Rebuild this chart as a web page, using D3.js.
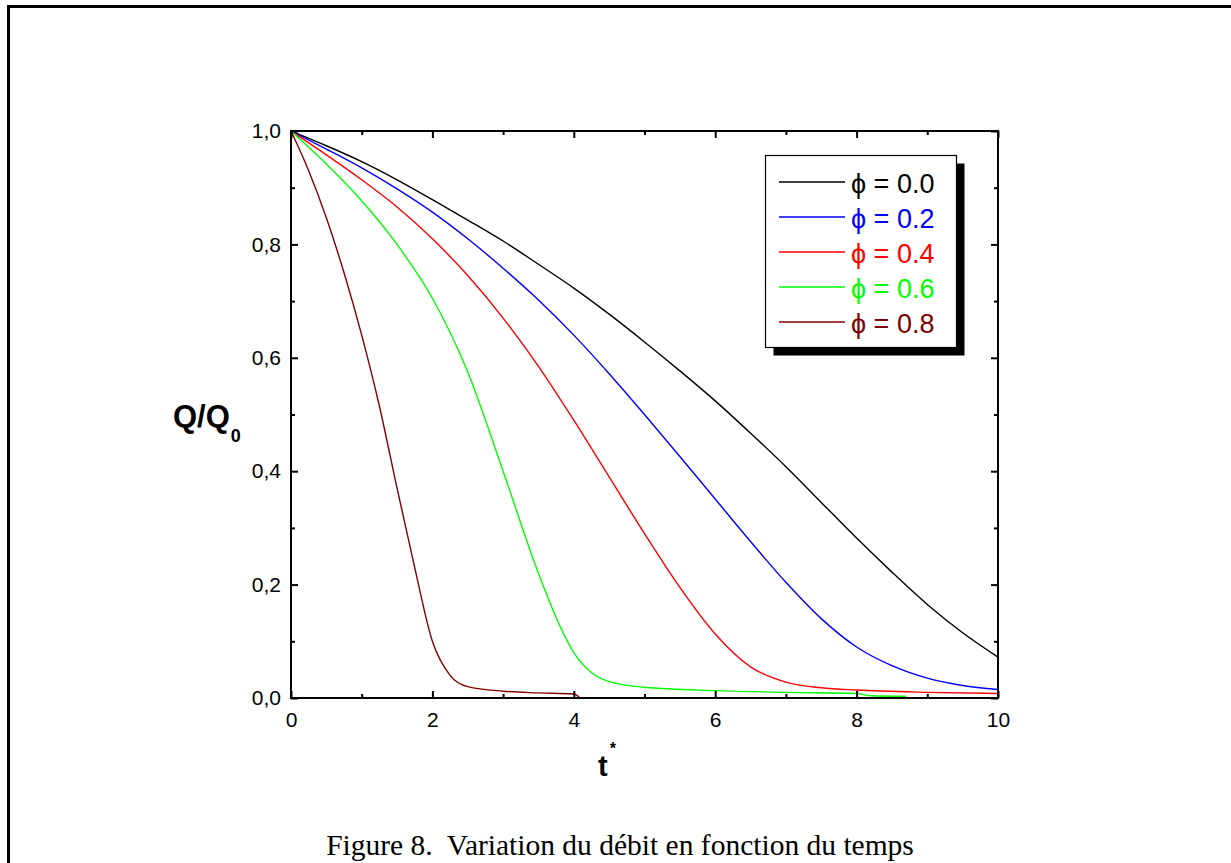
<!DOCTYPE html>
<html>
<head>
<meta charset="utf-8">
<script src="https://cdn.jsdelivr.net/npm/d3@7"></script>
<style>
  body { margin: 0; background: #fff; }
  svg { display: block; }
</style>
</head>
<body>
<svg id="chart" width="1231" height="863"></svg>
<script>
// values: t*, Q/Q0 for each phi
const tBlack = [0, 0.5, 1, 1.5, 2, 2.5, 3, 3.5, 4, 4.5, 5, 5.5, 6, 6.5, 7, 7.5, 8, 8.5, 9, 9.5, 10];
const qBlack = [1, 0.974, 0.946, 0.914, 0.879, 0.843, 0.806, 0.765, 0.723, 0.677, 0.628, 0.577, 0.524, 0.467, 0.408, 0.345, 0.282, 0.222, 0.165, 0.115, 0.072];

const tBlue = [0, 0.5, 1, 1.5, 2, 2.5, 3, 3.5, 4, 4.5, 5, 5.5, 6, 6.5, 7, 7.5, 8, 8.5, 9, 9.5, 10];
const qBlue = [1, 0.968, 0.935, 0.898, 0.857, 0.81, 0.758, 0.702, 0.64, 0.572, 0.5, 0.426, 0.351, 0.276, 0.204, 0.14, 0.09, 0.057, 0.035, 0.022, 0.015];

const tRed = [0, 0.5, 1, 1.5, 2, 2.5, 3, 3.5, 4, 4.5, 5, 5.5, 6, 6.5, 7, 7.5, 8, 9, 10];
const qRed = [1, 0.958, 0.914, 0.866, 0.81, 0.745, 0.67, 0.585, 0.49, 0.39, 0.29, 0.195, 0.113, 0.055, 0.028, 0.018, 0.014, 0.01, 0.008];

const tGreen = [0, 0.5, 1, 1.5, 2, 2.5, 3, 3.5, 3.75, 4, 4.25, 4.5, 5, 6, 7, 8, 8.2, 8.7];
const qGreen = [1, 0.942, 0.877, 0.8, 0.705, 0.575, 0.4, 0.22, 0.142, 0.08, 0.045, 0.029, 0.019, 0.013, 0.01, 0.008, 0.004, 0.003];

const tBrown = [0, 0.25, 0.5, 0.75, 1, 1.25, 1.5, 1.75, 2, 2.25, 2.5, 3, 3.5, 4, 4.08];
const qBrown = [1, 0.93, 0.847, 0.75, 0.64, 0.515, 0.37, 0.23, 0.1, 0.04, 0.02, 0.012, 0.009, 0.007, 0.001];

const phiLabels = ['0.0', '0.2', '0.4', '0.6', '0.8'];
const seriesColors = ['#000000', '#0000ff', '#ff0000', '#00ff00', '#800000'];

const xMajor = [0, 2, 4, 6, 8, 10];
const xMinor = [1, 3, 5, 7, 9];
const yMajor = [0, 0.2, 0.4, 0.6, 0.8, 1.0];
const yMinor = [0.1, 0.3, 0.5, 0.7, 0.9];

const caption = 'Figure 8.\u00A0 Variation du débit en fonction du temps';

const series = [
  { t: tBlack, q: qBlack },
  { t: tBlue, q: qBlue },
  { t: tRed, q: qRed },
  { t: tGreen, q: qGreen },
  { t: tBrown, q: qBrown }
];

const svg = d3.select('#chart');

// page frame (only top and left edges show)
svg.append('path')
  .attr('d', 'M 8.5 863 L 8.5 6.5 L 1231 6.5')
  .attr('fill', 'none')
  .attr('stroke', '#000')
  .attr('stroke-width', 3);

const plot = { left: 291, right: 998, top: 131, bottom: 698 };

const x = d3.scaleLinear().domain([0, 10]).range([plot.left, plot.right]);
const y = d3.scaleLinear().domain([0, 1]).range([plot.bottom, plot.top]);

const fmt = d => d3.format('.1f')(d).replace('.', ',');

// curves first, axes drawn on top
const line = d3.line()
  .x(d => x(d[0]))
  .y(d => y(d[1]))
  .curve(d3.curveMonotoneX);

svg.append('g')
  .attr('class', 'curves')
  .selectAll('path')
  .data(series)
  .join('path')
  .attr('d', s => line(s.t.map((t, i) => [t, s.q[i]])))
  .attr('fill', 'none')
  .attr('stroke', (s, i) => seriesColors[i])
  .attr('stroke-width', 1.4);

const styleAxis = g => {
  g.select('.domain').remove();
  g.selectAll('.tick line').attr('stroke', '#000').attr('stroke-width', 2);
  g.selectAll('.tick text')
    .attr('fill', '#000')
    .attr('font-family', 'Liberation Sans, Arial, sans-serif')
    .attr('font-size', 21);
};

// bottom
svg.append('g')
  .attr('transform', `translate(0,${plot.bottom})`)
  .call(d3.axisBottom(x).tickValues(xMajor).tickSizeInner(-7).tickSizeOuter(0).tickPadding(14).tickFormat(d3.format('d')))
  .call(styleAxis);
svg.append('g')
  .attr('transform', `translate(0,${plot.bottom})`)
  .call(d3.axisBottom(x).tickValues(xMinor).tickSizeInner(-4).tickSizeOuter(0).tickFormat(''))
  .call(styleAxis);

// top
svg.append('g')
  .attr('transform', `translate(0,${plot.top})`)
  .call(d3.axisTop(x).tickValues(xMajor).tickSizeInner(-7).tickSizeOuter(0).tickFormat(''))
  .call(styleAxis);
svg.append('g')
  .attr('transform', `translate(0,${plot.top})`)
  .call(d3.axisTop(x).tickValues(xMinor).tickSizeInner(-4).tickSizeOuter(0).tickFormat(''))
  .call(styleAxis);

// left
svg.append('g')
  .attr('transform', `translate(${plot.left},0)`)
  .call(d3.axisLeft(y).tickValues(yMajor).tickSizeInner(-7).tickSizeOuter(0).tickPadding(10).tickFormat(fmt))
  .call(styleAxis);
svg.append('g')
  .attr('transform', `translate(${plot.left},0)`)
  .call(d3.axisLeft(y).tickValues(yMinor).tickSizeInner(-4).tickSizeOuter(0).tickFormat(''))
  .call(styleAxis);

// right
svg.append('g')
  .attr('transform', `translate(${plot.right},0)`)
  .call(d3.axisRight(y).tickValues(yMajor).tickSizeInner(-7).tickSizeOuter(0).tickFormat(''))
  .call(styleAxis);
svg.append('g')
  .attr('transform', `translate(${plot.right},0)`)
  .call(d3.axisRight(y).tickValues(yMinor).tickSizeInner(-4).tickSizeOuter(0).tickFormat(''))
  .call(styleAxis);

// frame of the plot
svg.append('rect')
  .attr('x', plot.left)
  .attr('y', plot.top)
  .attr('width', plot.right - plot.left)
  .attr('height', plot.bottom - plot.top)
  .attr('fill', 'none')
  .attr('stroke', '#000')
  .attr('stroke-width', 2);

// axis titles
const yTitle = svg.append('text')
  .attr('x', 173)
  .attr('y', 427)
  .attr('font-family', 'Liberation Sans, Arial, sans-serif')
  .attr('font-weight', 'bold')
  .attr('font-size', 31)
  .attr('fill', '#000')
  .text('Q/Q');
yTitle.append('tspan')
  .attr('font-size', 18)
  .attr('dy', 15)
  .attr('dx', 1)
  .text('0');

const xTitle = svg.append('text')
  .attr('x', 598)
  .attr('y', 776)
  .attr('font-family', 'Liberation Sans, Arial, sans-serif')
  .attr('font-weight', 'bold')
  .attr('font-size', 29)
  .attr('fill', '#000')
  .text('t');
xTitle.append('tspan')
  .attr('font-size', 16)
  .attr('dy', -22)
  .attr('dx', 2)
  .text('*');

// legend
const legend = { x: 765.5, y: 155.5, w: 191, h: 192, shadow: 8 };
const lg = svg.append('g');
lg.append('rect')
  .attr('x', legend.x + legend.shadow)
  .attr('y', legend.y + legend.shadow)
  .attr('width', legend.w)
  .attr('height', legend.h)
  .attr('fill', '#000');
lg.append('rect')
  .attr('x', legend.x)
  .attr('y', legend.y)
  .attr('width', legend.w)
  .attr('height', legend.h)
  .attr('fill', '#fff')
  .attr('stroke', '#000')
  .attr('stroke-width', 1.2);

const rowY = d3.scaleLinear().domain([0, 4]).range([182, 322]);

phiLabels.forEach((label, i) => {
  const yy = rowY(i);
  lg.append('line')
    .attr('x1', 779)
    .attr('x2', 845)
    .attr('y1', yy)
    .attr('y2', yy)
    .attr('stroke', seriesColors[i])
    .attr('stroke-width', 1.4);
  lg.append('text')
    .attr('x', 851)
    .attr('y', yy + 11)
    .attr('font-family', 'Liberation Sans, Arial, sans-serif')
    .attr('font-size', 27)
    .attr('fill', seriesColors[i])
    .text(`\u03D5 = ${label}`);
});

// caption
svg.append('text')
  .attr('x', 620)
  .attr('y', 855)
  .attr('text-anchor', 'middle')
  .attr('font-family', 'Liberation Serif, Times New Roman, serif')
  .attr('font-size', 29.5)
  .attr('fill', '#000')
  .text(caption);
</script>
</body>
</html>
